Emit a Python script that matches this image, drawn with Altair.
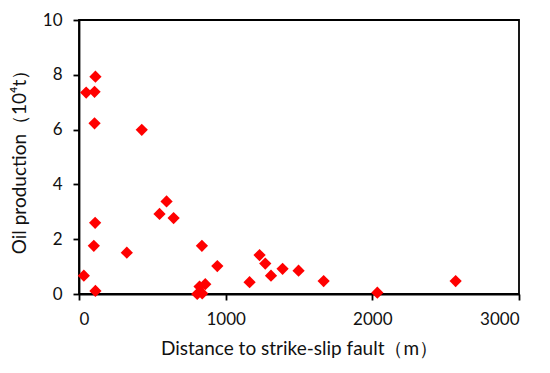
import altair as alt
import pandas as pd

distance = [112, 49, 106, 106, 428, 110, 101, 112, 33, 326, 549, 597, 645, 838,
            943, 822, 861, 806, 840, 1163, 1231, 1270, 1309, 1388, 1497, 1668, 2034, 2568]
oil = [7.93, 7.35, 7.38, 6.23, 5.99, 2.60, 1.76, 0.11, 0.67, 1.51, 2.92, 3.38, 2.77, 1.76,
       1.02, 0.27, 0.36, 0.0, 0.02, 0.43, 1.42, 1.11, 0.67, 0.92, 0.85, 0.47, 0.05, 0.47]

df = pd.DataFrame({"distance": distance, "oil": oil})

FONT = "Lato"

chart = alt.Chart(df).mark_point(
    shape="diamond", filled=True, color="#ff0000", size=150, opacity=1
).encode(
    x=alt.X("distance:Q",
            scale=alt.Scale(domain=[0, 3000], nice=False),
            axis=alt.Axis(values=[0, 1000, 2000, 3000], title="Distance to strike-slip fault（m）",
                          grid=False, format="d")),
    y=alt.Y("oil:Q",
            scale=alt.Scale(domain=[0, 10], nice=False),
            axis=alt.Axis(values=[0, 2, 4, 6, 8, 10], title="Oil production（10⁴t）",
                          grid=False)),
).properties(
    width=440, height=274,
    autosize=alt.AutoSizeParams(type="none"),
    padding={"left": 71, "top": 12, "right": 20, "bottom": 70},
).configure_view(
    stroke="black", strokeWidth=1.8
).configure_axis(
    domainColor="black", domainWidth=1.8, tickColor="black", tickWidth=1.8, tickSize=6,
    labelFont=FONT, labelFontSize=17, labelColor="#111111",
    titleFont=FONT, titleFontSize=19, titleColor="#111111", titleFontWeight="normal",
).configure_axisX(labelPadding=11, titlePadding=12).configure_axisY(labelPadding=11, titlePadding=13)

chart.save("out.html", embed_options={"renderer": "svg", "actions": False})
